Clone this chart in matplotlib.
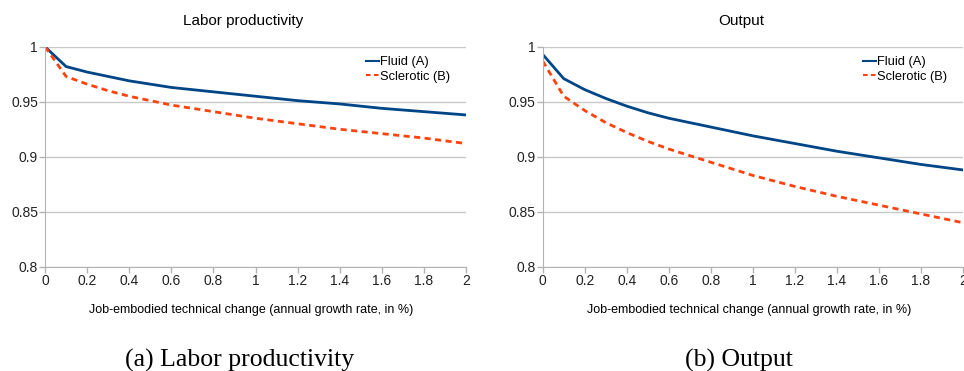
import matplotlib.pyplot as plt

x = [0, 0.1, 0.2, 0.3, 0.4, 0.5, 0.6, 0.8, 1.0, 1.2, 1.4, 1.6, 1.8, 2.0]

# labor productivity
prod_fluid = [1.0, 0.982, 0.977, 0.973, 0.969, 0.966, 0.963, 0.959, 0.955, 0.951, 0.948, 0.944, 0.941, 0.938]
prod_scler = [1.0, 0.973, 0.966, 0.960, 0.955, 0.951, 0.947, 0.941, 0.935, 0.930, 0.925, 0.921, 0.917, 0.912]

# output
out_fluid = [0.993, 0.971, 0.961, 0.953, 0.946, 0.940, 0.935, 0.927, 0.919, 0.912, 0.905, 0.899, 0.893, 0.888]
out_scler = [0.987, 0.955, 0.942, 0.931, 0.922, 0.914, 0.907, 0.895, 0.883, 0.873, 0.864, 0.856, 0.848, 0.840]

titles = ["Labor productivity", "Output"]
captions = ["(a) Labor productivity", "(b) Output"]
xlabel = "Job-embodied technical change (annual growth rate, in %)"
yticks = [0.8, 0.85, 0.9, 0.95, 1]
xticks = [0, 0.2, 0.4, 0.6, 0.8, 1, 1.2, 1.4, 1.6, 1.8, 2]

plt.rcParams['font.family'] = ['Liberation Sans', 'DejaVu Sans']

W, H = 964, 371
fig = plt.figure(figsize=(9.64, 3.71), dpi=100)
ax1 = fig.add_axes([0.0467, 0.281, 0.4367, 0.593])
ax2 = fig.add_axes([0.563, 0.281, 0.436, 0.593])

blue = '#004586'
orange = '#ff420e'

# axes, series, title, caption, title centre / caption centre / xlabel left (px)
panels = [(ax1, prod_fluid, prod_scler, titles[0], captions[0], 243, 240, 89),
          (ax2, out_fluid, out_scler, titles[1], captions[1], 741, 739, 587)]

for ax, fa, sb, t, cap, tx, cx, lx in panels:
    ax.plot(x, fa, color=blue, lw=2, label="Fluid (A)")
    ax.plot(x, sb, color=orange, lw=2, ls=(0, (2.2, 1.6)), label="Sclerotic (B)")
    ax.set_xlim(0, 2)
    ax.set_ylim(0.8, 1)
    ax.set_xticks(xticks)
    ax.set_xticklabels([f"{v:g}" for v in xticks])
    ax.set_yticks(yticks)
    ax.set_yticklabels([f"{v:g}" for v in yticks])
    ax.grid(axis='y', color='#c8c8c8', lw=1)
    ax.set_axisbelow(True)
    for s in ['top', 'right']:
        ax.spines[s].set_visible(False)
    for s in ['left', 'bottom']:
        ax.spines[s].set_color('#b3b3b3')
    ax.tick_params(colors='#b3b3b3', labelcolor='#222222', labelsize=10, length=4, width=1, pad=1)
    leg = ax.legend(loc='upper left', frameon=False, fontsize=9.3, handlelength=1.0,
                    handletextpad=0.1, labelspacing=0.2, borderpad=0, borderaxespad=0,
                    bbox_to_anchor=(0.762, 0.958))
    for h in leg.get_lines():
        h.set_linewidth(1.5)
    fig.text(tx / W, 1 - 21 / H, t, ha='center', va='center', fontsize=11)
    fig.text(lx / W, 1 - 310 / H, xlabel, ha='left', va='center', fontsize=9)
    fig.text(cx / W, 1 - 367 / H, cap, ha='center', va='baseline',
             fontsize=18.5, family=['Liberation Serif', 'DejaVu Serif'])

fig.savefig("out.png", dpi=100)
